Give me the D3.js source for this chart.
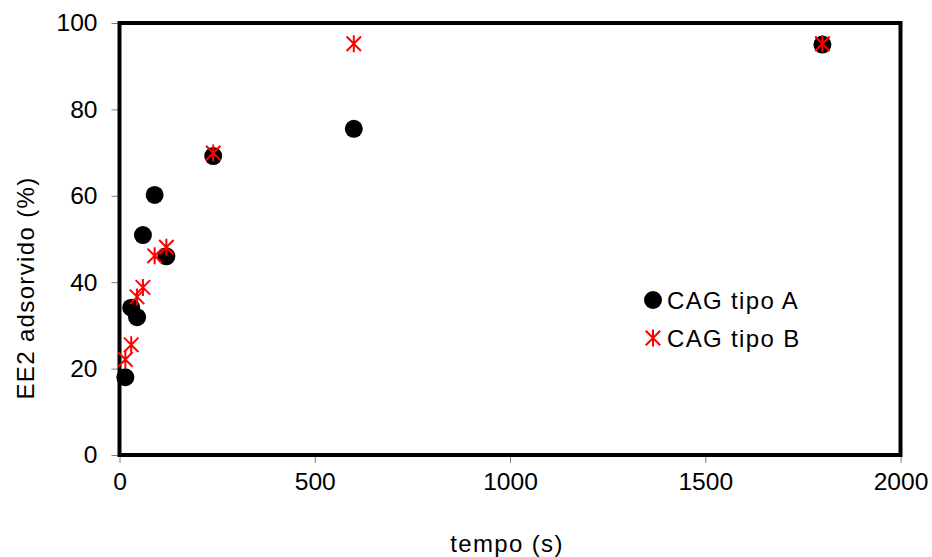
<!DOCTYPE html>
<html>
<head>
<meta charset="utf-8">
<script src="https://cdn.jsdelivr.net/npm/d3@7"></script>
<style>
body{margin:0;background:#fff;}
text{font-family:"Liberation Sans",Arial,sans-serif;fill:#000;}
.lbl{font-size:24px;letter-spacing:1.35px;}
</style>
</head>
<body>
<script>
// data
var tempo = [15, 30, 45, 60, 90, 120, 240, 600, 1800];
var tipoA = [18.0, 34.1, 31.9, 50.9, 60.2, 46.0, 69.2, 75.5, 95.0];
var tipoB = [22.1, 25.5, 36.6, 38.8, 46.1, 48.1, 69.9, 95.2, 95.2];
var xTicks = [0, 500, 1000, 1500, 2000];
var yTicks = [0, 20, 40, 60, 80, 100];
var series = [
	{name: "CAG tipo A", vals: tipoA, mark: "circle"},
	{name: "CAG tipo B", vals: tipoB, mark: "star"}
];

var svgwidth = 932, svgheight = 557;
var plot = {left: 119.5, right: 900.5, top: 23, bottom: 455};

var svg = d3.select("body").append("svg")
	.attr("width", svgwidth)
	.attr("height", svgheight);

var x = d3.scaleLinear().domain([0, 2000]).range([plot.left, plot.right]);
var y = d3.scaleLinear().domain([0, 100]).range([plot.bottom, plot.top]);

// axes: thin grey ticks outside, labels
var xAxis = svg.append("g")
	.attr("transform", "translate(0," + plot.bottom + ")")
	.call(d3.axisBottom(x).tickValues(xTicks).tickSize(8).tickPadding(10).tickFormat(d3.format("d")));
var yAxis = svg.append("g")
	.attr("transform", "translate(" + plot.left + ",0)")
	.call(d3.axisLeft(y).tickValues(yTicks).tickSize(8).tickPadding(14).tickFormat(d3.format("d")));

[xAxis, yAxis].forEach(function(a){
	a.select(".domain").remove();
	a.selectAll(".tick line").attr("stroke", "#808080").attr("stroke-width", 1);
	a.selectAll(".tick text").style("font-size", "24.6px").style("font-family", "Liberation Sans, Arial, sans-serif").attr("fill", "#000");
});

// thick frame
svg.append("rect")
	.attr("x", plot.left)
	.attr("y", plot.top)
	.attr("width", plot.right - plot.left)
	.attr("height", plot.bottom - plot.top)
	.attr("fill", "none")
	.attr("stroke", "#000")
	.attr("stroke-width", 4);

function starPath(r) {
	var d = r * 0.85;
	return "M0," + (-r) + "L0," + r +
		"M" + (-d) + "," + (-d) + "L" + d + "," + d +
		"M" + (-d) + "," + d + "L" + d + "," + (-d);
}

function drawMark(g, kind) {
	if (kind == "circle") {
		g.append("circle").attr("r", 9).attr("fill", "#000");
	} else {
		g.append("path").attr("d", starPath(8.5))
			.attr("stroke", "#ff0000").attr("stroke-width", 2).attr("fill", "none");
	}
}

series.forEach(function(s){
	var pts = svg.append("g").selectAll("g")
		.data(tempo.map(function(t, i){ return [t, s.vals[i]]; }))
		.enter().append("g")
		.attr("transform", function(d){ return "translate(" + x(d[0]) + "," + y(d[1]) + ")"; });
	pts.each(function(){ drawMark(d3.select(this), s.mark); });
});

// legend
var legend = svg.append("g").attr("transform", "translate(653,300)");
series.forEach(function(s, i){
	var row = legend.append("g").attr("transform", "translate(0," + (i * 38) + ")");
	drawMark(row, s.mark);
	row.append("text")
		.attr("class", "lbl")
		.attr("x", 14)
		.attr("y", 8.5)
		.text(s.name);
});

// axis titles
svg.append("text")
	.attr("class", "lbl")
	.attr("x", 507)
	.attr("y", 552)
	.attr("text-anchor", "middle")
	.text("tempo (s)");

svg.append("text")
	.attr("class", "lbl")
	.attr("transform", "translate(34,288) rotate(-90)")
	.attr("text-anchor", "middle")
	.text("EE2 adsorvido (%)");
</script>
</body>
</html>
